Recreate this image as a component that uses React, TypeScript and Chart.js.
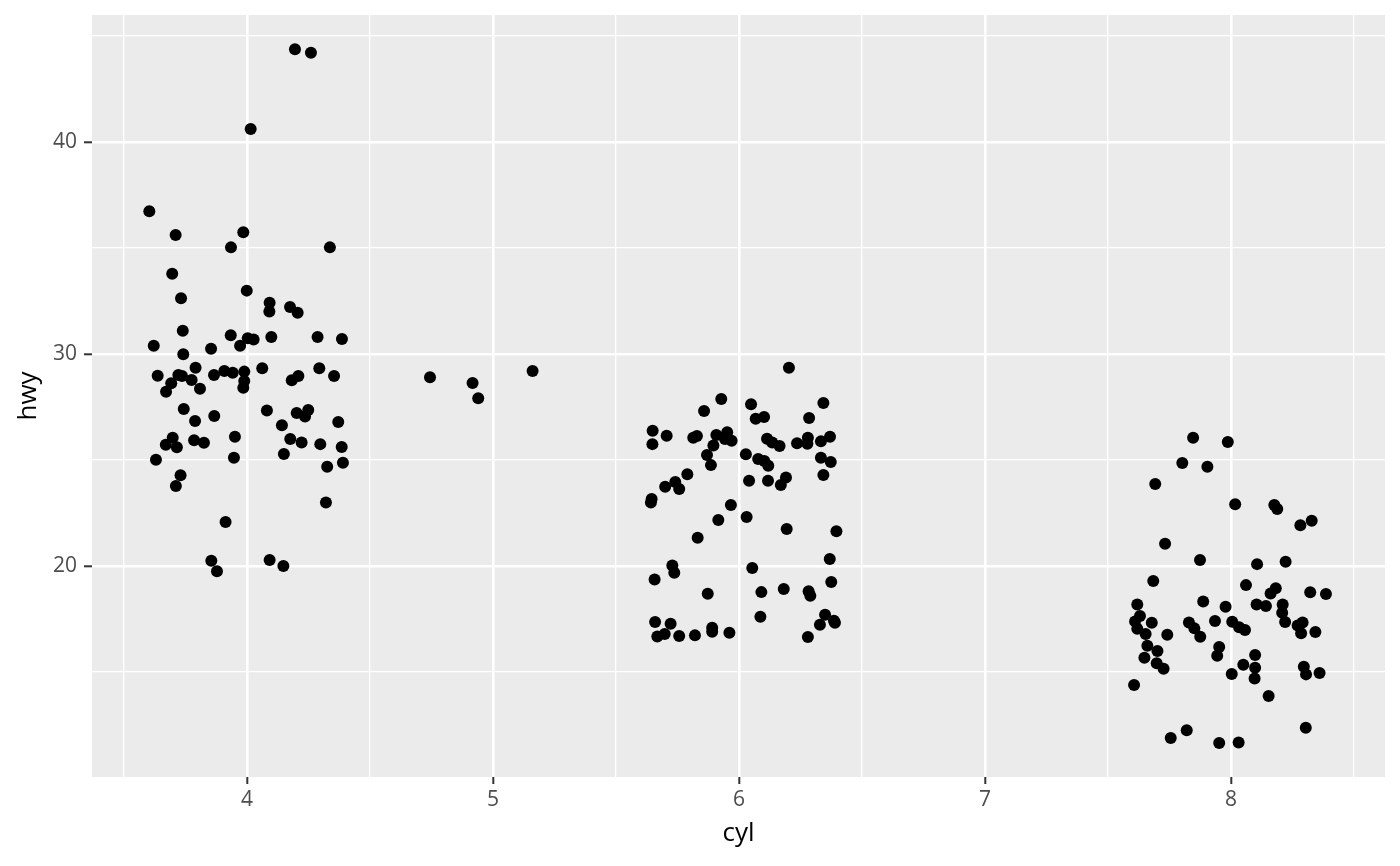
import React, { useEffect, useRef } from "react";
import { Chart, registerables } from "chart.js";

Chart.register(...registerables);

// Axis ticks
const xMajor = [4, 5, 6, 7, 8];
const xMinor = [3.5, 4.5, 5.5, 6.5, 7.5, 8.5];
const yMajor = [20, 30, 40];
const yMinor = [15, 25, 35, 45];

// Jittered points: cyl (x) vs hwy (y)
const cyl4X = [4.195,4.260,4.015,3.603,3.710,3.985,3.935,4.337,3.696,3.999,
  3.732,4.092,4.175,4.091,4.206,3.739,3.934,4.003,4.027,3.972,
  4.099,4.287,4.386,3.621,3.854,3.741,3.791,4.062,4.294,3.637,
  3.721,3.736,3.866,3.908,3.942,3.989,3.989,3.985,3.692,3.671,
  3.775,3.809,4.182,4.209,4.354,3.743,3.789,3.867,4.081,4.202,
  4.236,4.249,4.142,4.371,3.698,3.670,3.715,3.785,3.825,3.951,
  4.176,4.222,4.298,4.385,3.630,3.947,4.150,4.326,4.390,3.730,
  3.711,3.913,4.321,3.855,3.878,4.092,4.148];
const cyl4Y = [44.37,44.21,40.61,36.73,35.61,35.74,35.03,35.03,33.79,32.99,
  32.63,32.42,32.22,32.00,31.95,31.10,30.88,30.74,30.69,30.39,
  30.80,30.80,30.71,30.39,30.25,29.99,29.35,29.33,29.33,28.98,
  29.01,28.96,29.01,29.20,29.12,29.17,28.73,28.41,28.62,28.22,
  28.77,28.36,28.76,28.96,28.96,27.41,26.84,27.08,27.34,27.22,
  27.05,27.36,26.64,26.79,26.05,25.72,25.60,25.93,25.82,26.10,
  25.99,25.83,25.75,25.61,25.01,25.11,25.28,24.68,24.87,24.28,
  23.77,22.08,23.00,20.25,19.75,20.28,20.00];

const cyl5X = [4.744,4.917,4.940,5.161];
const cyl5Y = [28.90,28.63,27.91,29.20];

const cyl6X = [6.203,5.928,6.049,6.343,5.858,6.068,6.102,6.285,5.649,5.706,
  5.648,5.814,5.829,5.908,5.952,5.943,5.970,5.896,6.114,6.135,
  6.165,6.236,6.280,6.278,6.333,6.370,5.870,5.886,6.028,6.078,
  6.103,6.119,6.333,6.373,5.790,5.741,5.757,5.700,6.041,6.118,
  6.191,6.170,6.343,5.645,5.642,5.967,5.916,6.031,5.832,6.194,
  6.396,5.729,5.737,5.657,6.054,6.369,6.375,5.873,6.091,6.182,
  6.283,6.290,5.659,5.722,5.668,5.698,5.757,5.821,5.891,5.891,
  5.961,6.087,6.350,6.329,6.386,6.390,6.280];
const cyl6Y = [29.35,27.88,27.63,27.69,27.31,26.95,27.03,26.98,26.38,26.15,
  25.75,26.05,26.13,26.18,26.31,25.99,25.91,25.69,26.00,25.83,
  25.66,25.79,26.05,25.77,25.88,26.10,25.24,24.76,25.27,25.05,
  24.95,24.73,25.11,24.91,24.33,23.96,23.63,23.74,24.02,24.02,
  24.18,23.82,24.29,23.16,23.00,22.88,22.17,22.31,21.33,21.75,
  21.64,20.03,19.68,19.37,19.91,20.33,19.25,18.69,18.77,18.92,
  18.81,18.60,17.36,17.28,16.68,16.79,16.70,16.73,17.09,16.90,
  16.85,17.61,17.70,17.23,17.42,17.33,16.65];

const cyl8X = [7.846,7.987,7.802,7.904,7.692,8.017,8.176,8.188,8.328,8.282,
  7.732,7.874,8.106,8.222,7.684,8.061,8.182,8.161,8.322,8.386,
  7.619,7.887,7.978,8.104,8.142,8.210,8.208,8.220,7.630,7.610,
  7.619,7.653,7.678,7.741,7.829,7.851,7.875,7.935,8.005,8.033,
  8.057,8.271,8.291,8.285,8.343,7.660,7.701,7.648,7.698,7.726,
  7.952,7.944,8.098,8.050,8.098,8.096,8.003,8.296,8.305,8.360,
  7.606,8.153,8.304,7.820,7.755,7.952,8.031];
const cyl8Y = [26.05,25.85,24.86,24.68,23.87,22.91,22.88,22.69,22.14,21.92,
  21.05,20.28,20.09,20.20,19.29,19.10,18.95,18.71,18.76,18.68,
  18.19,18.33,18.08,18.19,18.11,18.19,17.80,17.36,17.64,17.39,
  17.04,16.79,17.33,16.76,17.34,17.06,16.67,17.41,17.37,17.11,
  16.98,17.20,17.34,16.83,16.89,16.24,15.99,15.67,15.41,15.16,
  16.18,15.77,15.80,15.34,15.20,14.70,14.91,15.25,14.89,14.95,
  14.39,13.87,12.37,12.26,11.89,11.65,11.68];

const FONT = "'Open Sans', 'Noto Sans', sans-serif";

const zip = (xs: number[], ys: number[]) => xs.map((x, i) => ({ x, y: ys[i] }));

const panelBg = {
  id: "panelBg",
  beforeDraw(chart: any) {
    const { ctx, chartArea: a } = chart;
    ctx.save();
    ctx.fillStyle = "#EBEBEB";
    ctx.fillRect(a.left, a.top, a.right - a.left, a.bottom - a.top);
    ctx.restore();
  },
};

export default function App() {
  const ref = useRef<HTMLCanvasElement | null>(null);

  useEffect(() => {
    if (!ref.current) return;
    const points = [
      ...zip(cyl4X, cyl4Y),
      ...zip(cyl5X, cyl5Y),
      ...zip(cyl6X, cyl6Y),
      ...zip(cyl8X, cyl8Y),
    ];
    const isMaj = (arr: number[]) => (c: any) => !!c.tick && arr.includes(c.tick.value);
    const xIsMaj = isMaj(xMajor);
    const yIsMaj = isMaj(yMajor);
    const chart = new Chart(ref.current, {
      type: "scatter",
      data: {
        datasets: [
          {
            data: points,
            backgroundColor: "#000000",
            borderWidth: 0,
            pointRadius: 6,
            pointHoverRadius: 6,
          },
        ],
      },
      options: {
        responsive: false,
        animation: false,
        events: [],
        layout: { padding: { top: 15, right: 15, left: 0, bottom: 0 } },
        plugins: { legend: { display: false }, tooltip: { enabled: false } },
        scales: {
          x: {
            type: "linear",
            min: 3.37,
            max: 8.626,
            afterBuildTicks: (s: any) => {
              s.ticks = [...xMinor, ...xMajor].sort((a, b) => a - b).map((v) => ({ value: v }));
            },
            afterFit: (s: any) => {
              s.height = 89;
              s.paddingLeft = 0;
              s.paddingRight = 0;
            },
            ticks: {
              autoSkip: false,
              maxRotation: 0,
              padding: 3,
              color: "#4D4D4D",
              font: { family: FONT, size: 21 },
              callback: (v: any) => (xMajor.includes(Number(v)) ? String(v) : ""),
            },
            grid: {
              color: "#FFFFFF",
              lineWidth: (c: any) => (xIsMaj(c) ? 2.6 : 1.3),
              tickColor: (c: any) => (xIsMaj(c) ? "#333333" : "rgba(0,0,0,0)"),
              tickLength: 7,
              tickWidth: 2,
            },
            border: { display: false },
            title: {
              display: true,
              text: "cyl",
              color: "#000000",
              font: { family: FONT, size: 26 },
              padding: { top: 0, bottom: 17 },
            },
          },
          y: {
            type: "linear",
            min: 10.05,
            max: 45.99,
            afterBuildTicks: (s: any) => {
              s.ticks = [...yMinor, ...yMajor].sort((a, b) => a - b).map((v) => ({ value: v }));
            },
            afterFit: (s: any) => {
              s.width = 92;
              s.paddingTop = 0;
              s.paddingBottom = 0;
            },
            ticks: {
              autoSkip: false,
              padding: 7,
              color: "#4D4D4D",
              font: { family: FONT, size: 21 },
              callback: (v: any) => (yMajor.includes(Number(v)) ? String(v) : ""),
            },
            grid: {
              color: "#FFFFFF",
              lineWidth: (c: any) => (yIsMaj(c) ? 2.6 : 1.3),
              tickColor: (c: any) => (yIsMaj(c) ? "#333333" : "rgba(0,0,0,0)"),
              tickLength: 8,
              tickWidth: 2,
            },
            border: { display: false },
            title: {
              display: true,
              text: "hwy",
              color: "#000000",
              font: { family: FONT, size: 26 },
              padding: { top: 13, bottom: 0 },
            },
          },
        },
      },
      plugins: [panelBg],
    } as any);
    return () => chart.destroy();
  }, []);

  return (
    <div style={{ position: "fixed", left: 0, top: 0, width: 1400, height: 866, background: "#FFFFFF" }}>
      <canvas ref={ref} width={1400} height={866} style={{ display: "block" }} />
    </div>
  );
}
